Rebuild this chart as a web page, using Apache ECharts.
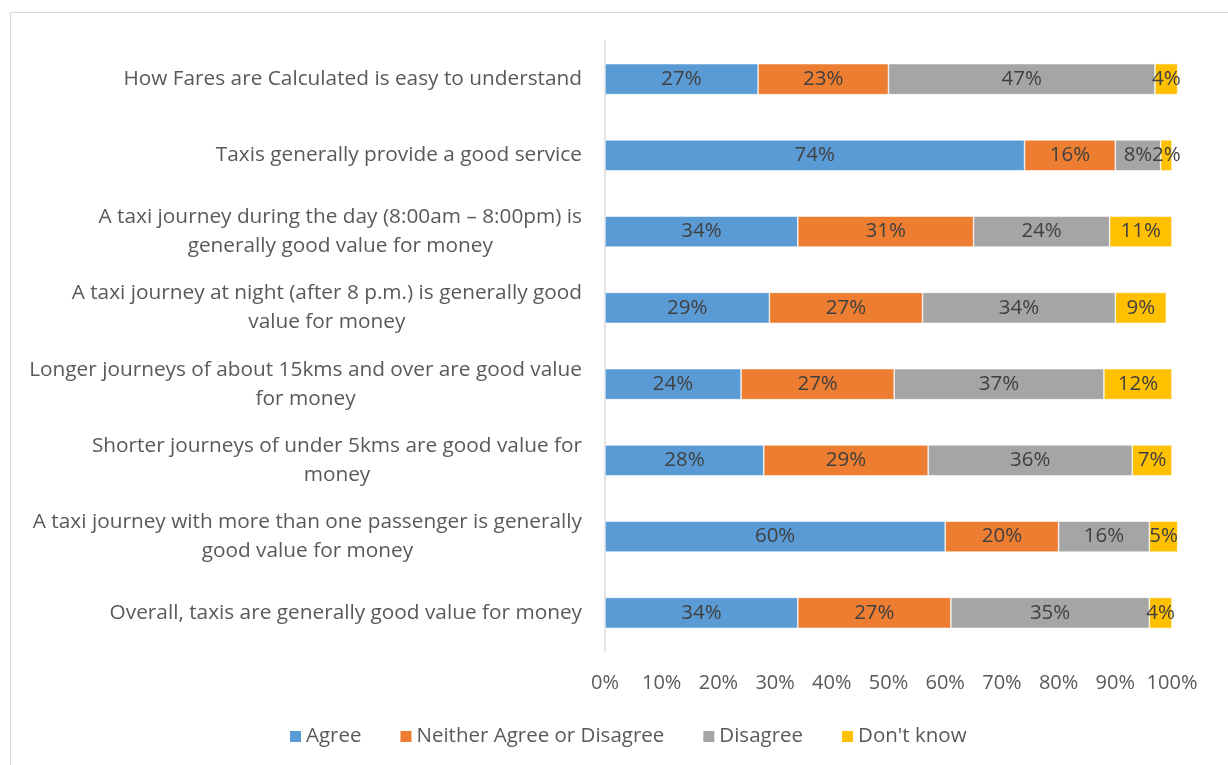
<!DOCTYPE html>
<html>
<head>
<meta charset="utf-8">
<script src="https://cdn.jsdelivr.net/npm/echarts@6/dist/echarts.min.js"></script>
<style>
  html, body { margin: 0; padding: 0; background: #fff; overflow: hidden; }
  #frame { position: absolute; left: 10px; top: 12px; width: 1240px; height: 780px; border: 1px solid #d9d9d9; }
  #chart { position: absolute; left: 0; top: 0; width: 1228px; height: 765px; }
</style>
</head>
<body>
<div id="frame"></div>
<div id="chart"></div>
<script>
// survey statements, top to bottom
var categories = [
  "How Fares are Calculated is easy to understand",
  "Taxis generally provide a good service",
  "A taxi journey during the day (8:00am \u2013 8:00pm) is\ngenerally good value for money",
  "A taxi journey at night (after 8 p.m.) is generally good\nvalue for money",
  "Longer journeys of about 15kms and over are good value\nfor money",
  "Shorter journeys of under 5kms are good value for\nmoney",
  "A taxi journey with more than one passenger is generally\ngood value for money",
  "Overall, taxis are generally good value for money"
];
var seriesNames = ["Agree", "Neither Agree or Disagree", "Disagree", "Don't know"];
var agree    = [27, 74, 34, 29, 24, 28, 60, 34];
var neither  = [23, 16, 31, 27, 27, 29, 20, 27];
var disagree = [47, 8, 24, 34, 37, 36, 16, 35];
var dontKnow = [4, 2, 11, 9, 12, 7, 5, 4];
var colors = ["#5B9BD5", "#ED7D31", "#A5A5A5", "#FFC000"];

var font = "Open Sans";
var chart = echarts.init(document.getElementById("chart"));

function makeSeries(name, data, i) {
  return {
    name: name,
    type: "bar",
    stack: "total",
    data: data,
    barWidth: 31,
    clip: false,
    itemStyle: { color: colors[i], borderColor: "#fff", borderWidth: 0.6 },
    label: {
      show: true,
      position: "inside",
      formatter: "{c}%",
      color: "#404040",
      fontFamily: font,
      fontSize: 20.5
    }
  };
}

chart.setOption({
  textStyle: { fontFamily: font },
  grid: { left: 605, right: 56, top: 41, bottom: 114 },
  legend: {
    data: seriesNames,
    bottom: 13,
    left: 283,
    itemWidth: 13,
    itemHeight: 13,
    itemGap: 37,
    icon: "rect",
    textStyle: { color: "#595959", fontSize: 20.5, fontFamily: font, padding: [0, 0, 0, -1] }
  },
  xAxis: {
    type: "value",
    min: 0,
    max: 100,
    interval: 10,
    axisLine: { show: false },
    axisTick: { show: false },
    splitLine: { show: false },
    axisLabel: { formatter: "{value}%", color: "#595959", fontSize: 20, fontFamily: font, margin: 22 }
  },
  yAxis: {
    type: "category",
    inverse: true,
    data: categories,
    axisLine: { show: true, lineStyle: { color: "#d9d9d9", width: 1.5 } },
    axisTick: { show: false },
    axisLabel: {
      margin: 23,
      color: "#595959",
      fontSize: 20.8,
      fontFamily: font,
      lineHeight: 29,
      formatter: function (v) {
        return v.split("\n").map(function (l) { return "{c|" + l + "}"; }).join("\n");
      },
      rich: { c: { align: "center", color: "#595959", fontSize: 20.8, fontFamily: font, lineHeight: 29 } }
    }
  },
  series: [
    makeSeries(seriesNames[0], agree, 0),
    makeSeries(seriesNames[1], neither, 1),
    makeSeries(seriesNames[2], disagree, 2),
    makeSeries(seriesNames[3], dontKnow, 3)
  ]
});
</script>
</body>
</html>
